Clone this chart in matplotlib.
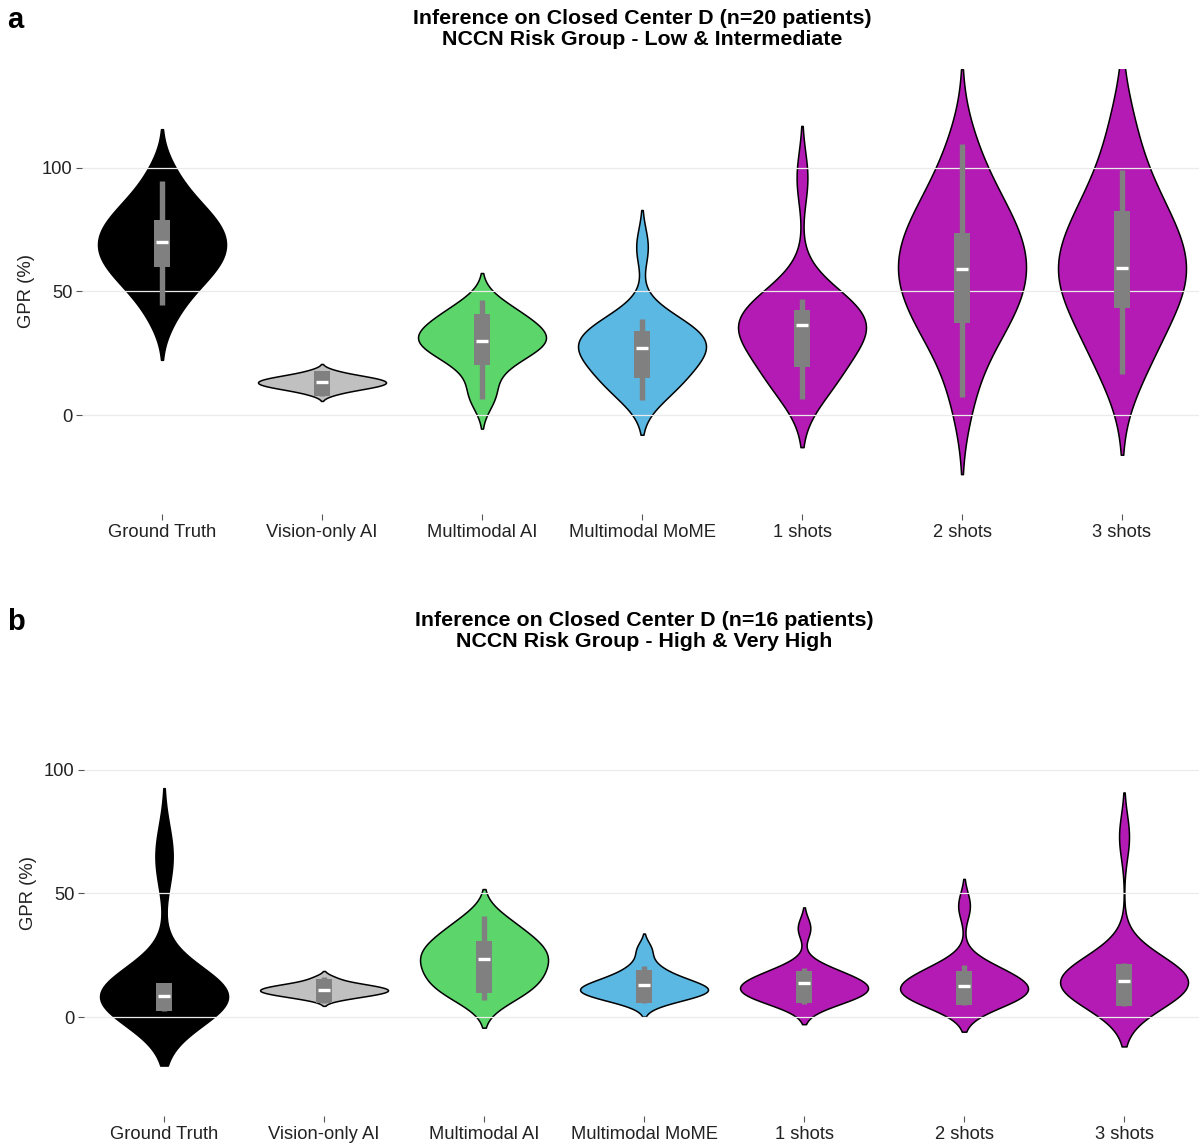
import numpy as np
import pandas as pd
import matplotlib
matplotlib.use("Agg")
import matplotlib.pyplot as plt
import seaborn as sns

plt.rcParams['font.family'] = ['Liberation Sans', 'DejaVu Sans']

labels = ["Ground Truth", "Vision-only AI", "Multimodal AI", "Multimodal MoME",
          "1 shots", "2 shots", "3 shots"]
colors = ["#000000", "#C0C0C0", "#5CD66A", "#5BB8E3", "#B41AB4", "#B41AB4", "#B41AB4"]

# --- panel a: low & intermediate risk (n=20), per-patient GPR estimates
gt_a = [39, 47, 51.5, 55, 57.5, 60, 62, 64, 66, 68, 70, 72, 74, 76, 78, 80.5, 83, 86.5, 91, 99]
vis_a = [8.4, 9.7, 10.4, 10.9, 11.3, 11.7, 12.1, 12.4, 12.7, 13.0, 13.4, 13.7, 14.0, 14.3,
         14.7, 15.1, 15.5, 16.0, 16.7, 18.0]
mm_a = [6, 9.5, 17, 21, 23.5, 25.5, 27, 28, 29, 30, 31, 32, 33, 34.5, 36, 37.5, 39, 41, 43, 46]
mome_a = [7, 9, 12, 15, 17, 19, 21, 23, 25, 26.5, 27.5, 29, 30, 31.5, 33, 34.5, 36, 38, 41, 68]
s1_a = [8, 10, 14, 18, 21, 24, 27, 30, 32, 34, 35.5, 37, 38.5, 40, 41.5, 43, 45, 48, 52, 96]
s2_a = [5, 22.5, 30, 36, 40, 44.5, 48, 51.5, 55, 58.5, 61.5, 65, 68, 71.5, 75.5, 80, 84, 90, 97.5, 111]
s3_a = [14, 22, 30, 36, 41, 45, 49, 53, 56, 59, 62, 65, 69, 73, 77, 82, 87, 94, 104, 120]

# box summaries
lo_a = [44.5, 7.7, 6.5, 6.1, 6.5, 7.5, 16.6]
q1_a = [59.9, 7.7, 20.3, 15.1, 19.5, 37.1, 43.5]
med_a = [70.1, 13.2, 30.0, 27.0, 36.3, 59.0, 59.7]
q3_a = [79.1, 17.9, 41.0, 34.0, 42.5, 73.7, 82.5]
hi_a = [94.7, 17.9, 46.7, 38.8, 47.0, 109.7, 99.3]

# --- panel b: high & very high risk (n=16)
gt_b = [3, 4, 5, 6, 6.5, 7, 8, 8.5, 9, 10, 11, 12, 13, 14, 60, 70]
vis_b = [7.2, 8.2, 8.8, 9.3, 9.7, 10.1, 10.4, 10.8, 11.2, 11.6, 11.9, 12.3, 12.8, 13.4, 14.2, 16.0]
mm_b = [7, 9.5, 12, 14, 16, 18, 20, 22, 24, 25.5, 27, 29, 31, 33.5, 36.5, 40.5]
mome_b = [6.5, 7.5, 8.5, 9.5, 10, 10.5, 11, 11.5, 12, 13, 14, 15, 16.5, 18, 21.5, 27.5]
s1_b = [5.5, 6.5, 7.5, 8.5, 9.5, 10.5, 11.5, 12, 12.5, 13.5, 14.5, 15.5, 17, 18.5, 20, 36]
s2_b = [5, 6, 7, 8, 9, 10, 11, 11.5, 12.5, 13.5, 15, 16.5, 18, 19.5, 21, 45]
s3_b = [6, 7.5, 8.5, 10, 11, 12, 13, 14, 15, 16, 17, 18.5, 20, 22, 24, 73]

lo_b = [2.4, 5.5, 7.1, 5.8, 5.3, 4.9, 4.5]
q1_b = [2.4, 5.5, 9.7, 5.8, 5.8, 4.9, 4.5]
med_b = [8.5, 10.8, 23.3, 13.0, 13.9, 12.6, 14.6]
q3_b = [13.6, 15.4, 30.6, 19.0, 18.6, 18.8, 21.5]
hi_b = [13.6, 16.3, 40.8, 20.6, 20.0, 21.0, 22.0]

titles = ["Inference on Closed Center D (n=20 patients)\nNCCN Risk Group - Low & Intermediate",
          "Inference on Closed Center D (n=16 patients)\nNCCN Risk Group - High & Very High"]


def long_form(groups):
    rows = []
    for name, vals in zip(labels, groups):
        for v in vals:
            rows.append((name, v))
    return pd.DataFrame(rows, columns=["model", "gpr"])


def draw_panel(ax, groups, lo, q1, med, q3, hi, title):
    df = long_form(groups)
    sns.violinplot(data=df, x="model", y="gpr", hue="model", order=labels, hue_order=labels,
                   palette=dict(zip(labels, colors)), inner=None, density_norm="width",
                   cut=2, saturation=1, linecolor="black", linewidth=1.1, legend=False, ax=ax)

    # inner boxes
    xs = np.arange(len(labels))
    ax.vlines(xs, lo, hi, color="#808080", linewidth=3.9, zorder=3)
    ax.bar(xs, np.array(q3) - np.array(q1), bottom=q1, width=0.105,
           color="#808080", edgecolor="none", zorder=3.5)
    ax.hlines(med, xs - 0.039, xs + 0.039, color="white", linewidth=2.4, zorder=4)

    ax.set_xlim(-0.5, 6.5)
    ax.set_ylim(-40, 140)
    ax.set_yticks([0, 50, 100])
    ax.set_xlabel("")
    ax.set_ylabel("GPR (%)", fontsize=13.3, color="#222222", labelpad=5)
    ax.set_title(title, fontsize=15.4, fontweight="bold", pad=17, linespacing=1.15)
    for s in ax.spines.values():
        s.set_visible(False)
    ax.grid(axis="y", color="#EBEBEB", linewidth=0.9)
    ax.grid(axis="x", visible=False)
    ax.set_axisbelow(False)
    ax.tick_params(axis="both", length=4, width=0.8, color="#555555",
                   labelsize=13.2, labelcolor="#222222", pad=3)


fig = plt.figure(figsize=(11.99, 11.46), dpi=100)
ax1 = fig.add_axes([0.0684, 0.5515, 0.9341, 0.3883])
ax2 = fig.add_axes([0.0701, 0.0262, 0.9341, 0.3883])

draw_panel(ax1, [gt_a, vis_a, mm_a, mome_a, s1_a, s2_a, s3_a],
           lo_a, q1_a, med_a, q3_a, hi_a, titles[0])
draw_panel(ax2, [gt_b, vis_b, mm_b, mome_b, s1_b, s2_b, s3_b],
           lo_b, q1_b, med_b, q3_b, hi_b, titles[1])

fig.text(0.006, 0.9756, "a", fontsize=21, fontweight="bold")
fig.text(0.006, 0.4503, "b", fontsize=21, fontweight="bold")

fig.savefig("out.png", dpi=100)
